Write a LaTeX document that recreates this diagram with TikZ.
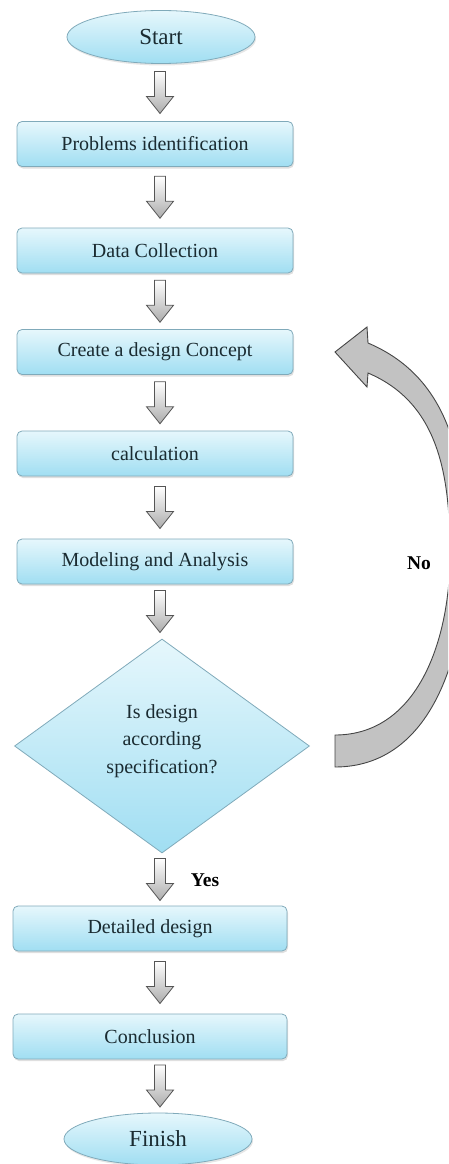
\documentclass[tikz,border=0pt]{standalone}
\usepackage{fontspec}
\setmainfont{Liberation Serif}
\usetikzlibrary{shapes.geometric,shadows,calc}
\definecolor{boxtop}{HTML}{E6F7FC}
\definecolor{boxbot}{HTML}{A0DEF2}
\definecolor{boxline}{HTML}{80AABA}
\definecolor{txt}{HTML}{1A2B31}
\definecolor{arrline}{HTML}{555555}
\definecolor{curvefill}{HTML}{C2C2C2}
\definecolor{curveline}{HTML}{454545}
\tikzset{
  procbox/.style={rectangle, rounded corners=5pt, draw=boxline, line width=0.8pt,
    top color=boxtop, bottom color=boxbot, minimum height=45pt, inner sep=0pt,
    font=\fontsize{20}{24}\selectfont, text=txt,
    drop shadow={opacity=0.25, shadow xshift=1pt, shadow yshift=-2pt}},
  termnode/.style={ellipse, draw=boxline, line width=0.8pt,
    top color=boxtop, bottom color=boxbot, minimum width=188pt, minimum height=53pt,
    inner sep=0pt, font=\fontsize{23}{27}\selectfont, text=txt,
    drop shadow={opacity=0.2, shadow xshift=1pt, shadow yshift=-2pt}},
  decnode/.style={diamond, aspect=1.37, draw=boxline, line width=0.8pt,
    top color=boxtop, bottom color=boxbot, minimum width=295pt, minimum height=214pt,
    inner sep=0pt},
  dectext/.style={align=center, font=\fontsize{20}{27.5}\selectfont, text=txt, inner sep=0pt},
  blockarrow/.style={draw=arrline, line width=0.8pt, top color=white, bottom color=gray!65, line join=miter},
  curvearrow/.style={draw=curveline, line width=0.9pt, fill=curvefill, line join=miter},
  lbl/.style={font=\bfseries\fontsize{19.5}{23}\selectfont, text=black}
}
\newcommand\flowarrow[2]{%
  \draw[blockarrow] let \p3=($(#1.south -| ax)!0.5!(#2.north -| ax)$) in
    (\x3-5.5pt,\y3+21pt) -- (\x3+5.5pt,\y3+21pt) -- (\x3+5.5pt,\y3-4pt) --
    (\x3+13.5pt,\y3-4pt) -- (\x3,\y3-21pt) -- (\x3-13.5pt,\y3-4pt) --
    (\x3-5.5pt,\y3-4pt) -- cycle;}
\begin{document}
\begin{tikzpicture}[x=1pt,y=1pt]
\useasboundingbox (0,0) rectangle (448,-1164);
\coordinate (ax) at (160,0);

\node[termnode] (start) at (161,-37) {Start};
\node[procbox, minimum width=276pt] (prob) at (155,-144) {Problems identification};
\node[procbox, minimum width=276pt] (data) at (155,-250.5) {Data Collection};
\node[procbox, minimum width=276pt] (concept) at (155,-352) {Create a design Concept};
\node[procbox, minimum width=276pt] (calc) at (155,-453.5) {calculation};
\node[procbox, minimum width=276pt] (model) at (155,-561.5) {Modeling and Analysis};
\node[decnode] (dec) at (162,-746) {};
\node[dectext] (dectxt) at (162,-741) {Is design\\according\\specification?};
\node[procbox, minimum width=274pt] (detail) at (150,-928.5) {Detailed design};
\node[procbox, minimum width=274pt] (concl) at (150,-1036.5) {Conclusion};
\node[termnode, minimum height=52pt] (finish) at (158,-1139) {Finish};

\flowarrow{start}{prob}
\flowarrow{prob}{data}
\flowarrow{data}{concept}
\flowarrow{concept}{calc}
\flowarrow{calc}{model}
\flowarrow{model}{dec}
\flowarrow{dec}{detail}
\flowarrow{detail}{concl}
\flowarrow{concl}{finish}

\node[lbl] (yes) at (205,-880) {Yes};

\begin{scope}
  \clip (0,0) rectangle (448,-1164);
  \draw[curvearrow] (335,-767) to[out=0,in=-90] (466,-555) to[out=90,in=-23] (368,-343)
    -- (367,-327) -- (335,-352) -- (367,-387) -- (368,-373)
    to[out=-23,in=90] (450,-555) to[out=-90,in=0] (335,-735) -- cycle;
\end{scope}
\node[lbl] (no) at (419,-563) {No};
\end{tikzpicture}
\end{document}
